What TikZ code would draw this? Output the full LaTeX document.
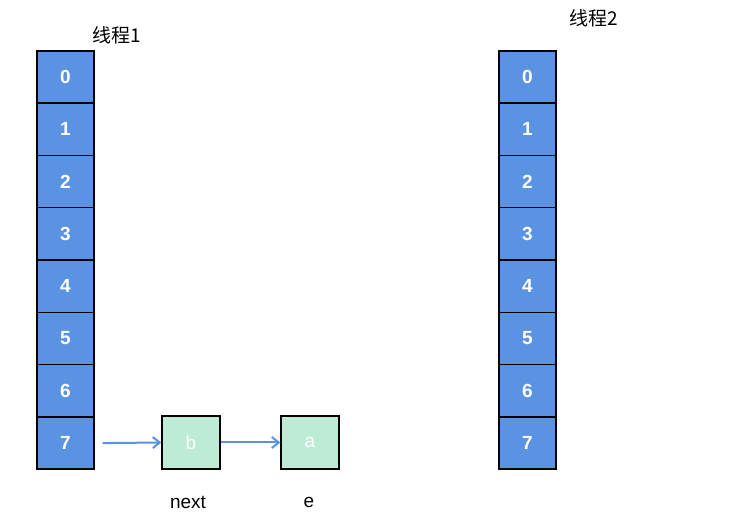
\documentclass[tikz,border=0pt]{standalone}
\usepackage{fontspec}
\usetikzlibrary{arrows.meta}
\setmainfont{Liberation Sans}
\newfontfamily\cjk{Noto Sans CJK SC}
\definecolor{cellblue}{HTML}{5B93E3}
\definecolor{nodegreen}{HTML}{BDEBD6}
\definecolor{arrowblue}{HTML}{5B93E3}
\tikzset{
  cell/.style={draw=black,line width=1.2pt,fill=cellblue,minimum width=57pt,minimum height=52pt,inner sep=0pt,text=white,font=\fontsize{19}{21}\selectfont\bfseries},
  entry/.style={draw=black,line width=1.2pt,fill=nodegreen,minimum width=58pt,minimum height=53pt,inner sep=0pt,text=white,font=\fontsize{19}{21}\selectfont},
  link/.style={-{Straight Barb[length=7pt,width=11pt,line width=2pt]},line width=2pt,arrowblue},
  lbl/.style={font=\fontsize{19}{21}\selectfont}
}
\begin{document}
\begin{tikzpicture}[x=1pt,y=-1pt]
\useasboundingbox (0,0) rectangle (732,526);

% thread 1 table
\foreach \i in {0,...,7}
  \node[cell] (l\i) at (65.5,{77+52.3*\i}) {\i};
\node[lbl] (t1) at (117,35) {\cjk 线程1};

% thread 2 table
\foreach \i in {0,...,7}
  \node[cell] (r\i) at (527.5,{77+52.3*\i}) {\i};
\node[lbl] (t2) at (594,18) {\cjk 线程2};

% entries
\node[entry] (b) at (191,442.5) {b};
\node[entry] (a) at (310,442.5) {a};
\node[lbl] (next) at (188,502) {next};
\node[lbl] (e) at (309,502) {e};

\draw[link] ([xshift=8pt]l7.east) coordinate (s) -- (b.west);
\draw[link] (b.east) -- (a.west);
\end{tikzpicture}
\end{document}
